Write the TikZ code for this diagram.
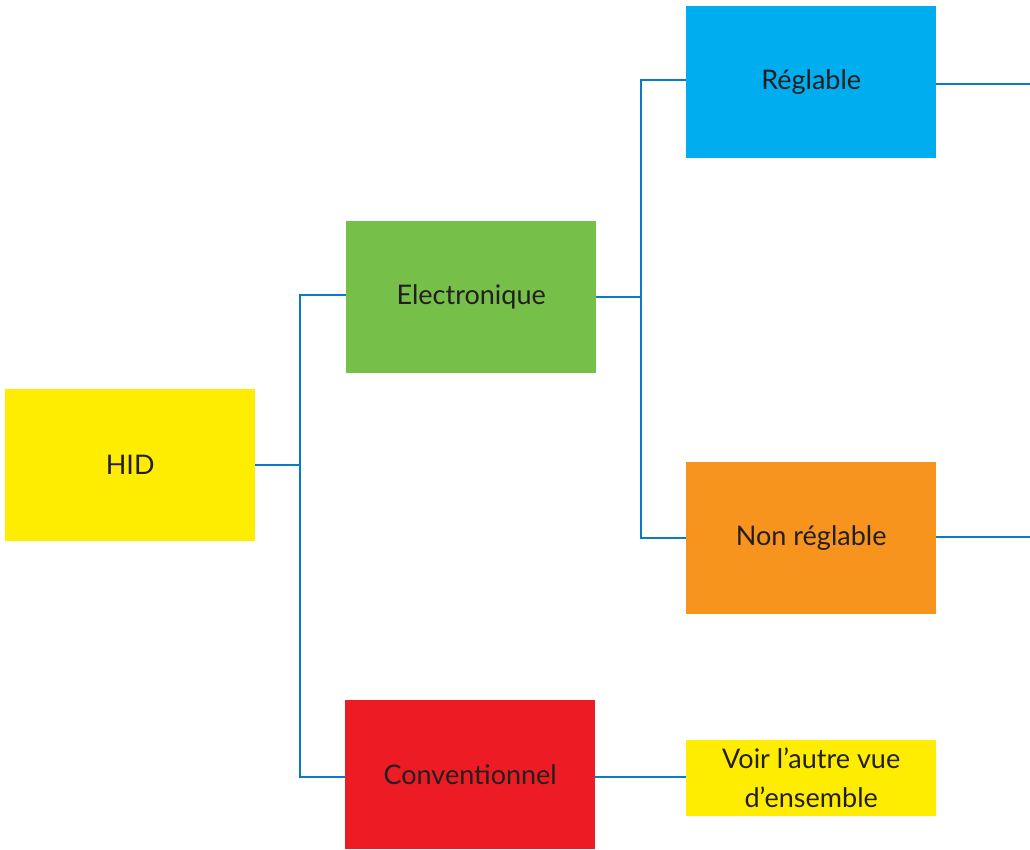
\documentclass[tikz,border=0pt]{standalone}
\usepackage{fontspec}
\setmainfont{Lato}
\definecolor{hidyellow}{HTML}{FFED00}
\definecolor{elgreen}{HTML}{76C04A}
\definecolor{regblue}{HTML}{00AEEF}
\definecolor{nrorange}{HTML}{F7941D}
\definecolor{convred}{HTML}{ED1C24}
\definecolor{linkblue}{HTML}{0A7CC4}
\definecolor{txt}{HTML}{231F20}
\tikzset{
  x=1pt,y=-1pt,
  box/.style={fill=#1, draw=none, minimum width=250pt, minimum height=152pt, inner sep=0pt, text=txt, font=\fontsize{27}{32}\selectfont, anchor=north west, align=center},
  smallbox/.style={fill=#1, draw=none, minimum width=250pt, minimum height=76pt, inner sep=0pt, text=txt, font=\fontsize{27}{39}\selectfont, anchor=north west, align=center},
  link/.style={draw=linkblue, line width=2pt}
}
\begin{document}
\begin{tikzpicture}
\useasboundingbox (0,0) rectangle (1030,849);
\node[box=hidyellow] (hid) at (5,389) {HID};
\node[box=elgreen] (el) at (346,221) {Electronique};
\node[box=regblue] (reg) at (686,6) {Réglable};
\node[box=nrorange] (nr) at (686,462) {Non réglable};
\node[box=convred, minimum height=149pt] (conv) at (345,700) {Conventionnel};
\node[smallbox=hidyellow] (voir) at (686,740) {Voir l’autre vue\\d’ensemble};
\coordinate (j1) at (300,465);
\coordinate (j2) at (641,297);
\coordinate (regout) at (1030,84);
\coordinate (nrout) at (1030,537);
\draw[link] (hid.east |- j1) -- (j1);
\draw[link] (el.west |- 0,295) -| (j1) |- (conv.west |- 0,777);
\draw[link] (el.east |- j2) -- (j2);
\draw[link] (reg.west |- 0,80) -| (j2) |- (nr.west |- 0,538);
\draw[link] (reg.east |- regout) -- (regout);
\draw[link] (nr.east |- nrout) -- (nrout);
\draw[link] (conv.east |- 0,777) -- (voir.west |- 0,777);
\end{tikzpicture}
\end{document}
